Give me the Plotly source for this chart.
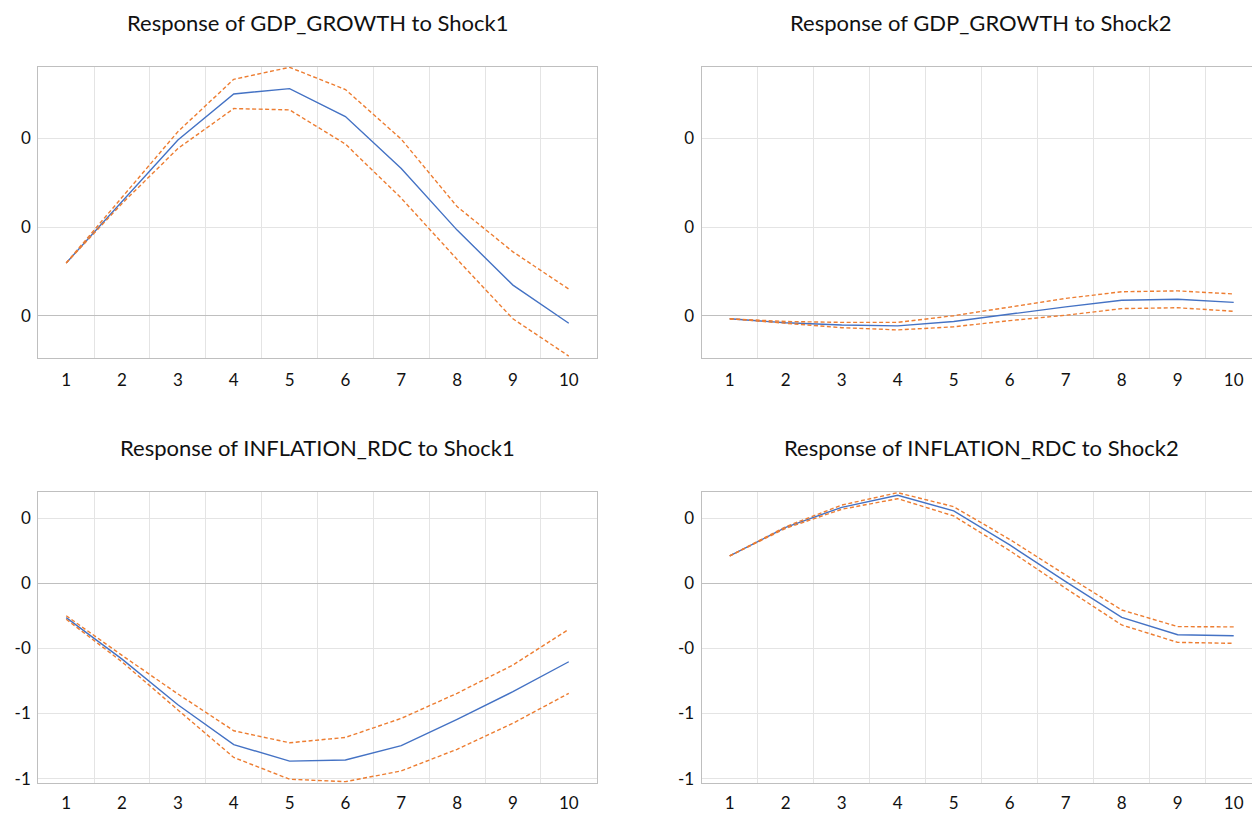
import plotly.graph_objects as go

# ---------------- data ----------------
periods = list(range(1, 11))
period_labels = [str(p) for p in periods]

gdp_shock1 = [0.119, 0.257, 0.396, 0.500, 0.512, 0.449, 0.332, 0.193, 0.069, -0.017]
gdp_shock1_upper = [0.119, 0.268, 0.415, 0.533, 0.560, 0.510, 0.398, 0.246, 0.144, 0.060]
gdp_shock1_lower = [0.119, 0.253, 0.377, 0.467, 0.464, 0.387, 0.265, 0.127, -0.007, -0.091]

gdp_shock2 = [-0.007, -0.016, -0.021, -0.023, -0.013, 0.004, 0.020, 0.035, 0.037, 0.030]
gdp_shock2_upper = [-0.007, -0.013, -0.015, -0.015, 0.000, 0.019, 0.039, 0.054, 0.056, 0.049]
gdp_shock2_lower = [-0.007, -0.017, -0.027, -0.032, -0.025, -0.011, 0.001, 0.016, 0.018, 0.010]

inf_shock1 = [-0.211, -0.466, -0.746, -0.991, -1.093, -1.086, -0.998, -0.836, -0.666, -0.482]
inf_shock1_upper = [-0.199, -0.443, -0.680, -0.906, -0.980, -0.947, -0.830, -0.676, -0.502, -0.283]
inf_shock1_lower = [-0.221, -0.483, -0.778, -1.070, -1.204, -1.219, -1.153, -1.020, -0.860, -0.676]

inf_shock2 = [0.168, 0.344, 0.467, 0.541, 0.445, 0.236, 0.010, -0.209, -0.316, -0.322]
inf_shock2_upper = [0.168, 0.348, 0.481, 0.557, 0.471, 0.270, 0.051, -0.164, -0.266, -0.268]
inf_shock2_lower = [0.168, 0.338, 0.455, 0.520, 0.414, 0.201, -0.031, -0.256, -0.363, -0.369]

titles = [
    "Response of GDP_GROWTH to Shock1",
    "Response of GDP_GROWTH to Shock2",
    "Response of INFLATION_RDC to Shock1",
    "Response of INFLATION_RDC to Shock2",
]

top_tickvals = [0, 0.2, 0.4]
top_ticktext = ["0", "0", "0"]
bottom_tickvals = [-1.2, -0.8, -0.4, 0, 0.4]
bottom_ticktext = ["-1", "-1", "-0", "0", "0"]

# ---------------- layout geometry ----------------
# The page body has an 8px margin, so the figure is drawn 8px in from the
# window corner; page coordinates are converted by subtracting OFF.
OFF = 8
W, H = 1260 - OFF, 814 - OFF
FONT = "Lato, 'Open Sans', sans-serif"
BLUE = "#4472C4"
ORANGE = "#ED7D31"
GRID = "#E4E4E4"
BORDER = "#BFBFBF"

panels = [
    dict(mid=gdp_shock1, up=gdp_shock1_upper, lo=gdp_shock1_lower,
         x=(38.3, 596.7), y=(66.7, 358.3), xr=[0.5, 10.5], yr=[-0.096, 0.5614],
         tv=top_tickvals, tt=top_ticktext, mirror=True, tx=317.5, xs=6),
    dict(mid=gdp_shock2, up=gdp_shock2_upper, lo=gdp_shock2_lower,
         x=(701.7, 1260.0), y=(66.7, 358.3), xr=[0.5, 0.5 + 558.3 / 56.0], yr=[-0.096, 0.5614],
         tv=top_tickvals, tt=top_ticktext, mirror=False, tx=981.0, xs=6),
    dict(mid=inf_shock1, up=inf_shock1_upper, lo=inf_shock1_lower,
         x=(38.3, 596.7), y=(491.7, 783.3), xr=[0.5, 10.5], yr=[-1.229, 0.563],
         tv=bottom_tickvals, tt=bottom_ticktext, mirror=True, tx=317.5, xs=4),
    dict(mid=inf_shock2, up=inf_shock2_upper, lo=inf_shock2_lower,
         x=(701.7, 1260.0), y=(491.7, 783.3), xr=[0.5, 0.5 + 558.3 / 56.0], yr=[-1.229, 0.563],
         tv=bottom_tickvals, tt=bottom_ticktext, mirror=False, tx=981.0, xs=4),
]

fig = go.Figure()
layout = dict(
    width=W, height=H,
    margin=dict(l=0, r=0, t=0, b=0),
    paper_bgcolor="white", plot_bgcolor="white",
    showlegend=False,
    font=dict(family=FONT, color="#111111"),
    annotations=[],
)

minor_grid = [p + 0.5 for p in periods[:-1]]

for i, p in enumerate(panels):
    n = "" if i == 0 else str(i + 1)
    xa, ya = "x" + n, "y" + n
    fig.add_trace(go.Scatter(x=periods, y=p["mid"], mode="lines", xaxis=xa, yaxis=ya,
                             line=dict(color=BLUE, width=1.4), hoverinfo="skip"))
    for key in ("up", "lo"):
        fig.add_trace(go.Scatter(x=periods, y=p[key], mode="lines", xaxis=xa, yaxis=ya,
                                 line=dict(color=ORANGE, width=1.4, dash="4px,2.5px"),
                                 hoverinfo="skip"))
    xd = [(p["x"][0] - OFF) / W, min(1.0, (p["x"][1] - OFF) / W)]
    yd = [1 - (p["y"][1] - OFF) / H, 1 - (p["y"][0] - OFF) / H]
    layout["xaxis" + n] = dict(
        domain=xd, anchor=ya, range=p["xr"],
        tickvals=periods, ticktext=period_labels,
        showgrid=False, zeroline=False,
        minor=dict(tickvals=minor_grid, showgrid=True, gridcolor=GRID, gridwidth=1),
        showline=True, linecolor=BORDER, linewidth=1.3, mirror=True,
        ticks="", ticklabelstandoff=p["xs"],
        tickfont=dict(family=FONT, size=17, color="#111111"),
        automargin=False, fixedrange=True,
    )
    layout["yaxis" + n] = dict(
        domain=yd, anchor=xa, range=p["yr"],
        tickvals=p["tv"], ticktext=p["tt"],
        showgrid=True, gridcolor=GRID, gridwidth=1,
        zeroline=True, zerolinecolor=BORDER, zerolinewidth=1.3,
        showline=True, linecolor=BORDER, linewidth=1.3, mirror=p["mirror"],
        ticks="", ticklabelstandoff=3,
        tickfont=dict(family=FONT, size=17, color="#111111"),
        automargin=False, fixedrange=True,
    )
    layout["annotations"].append(dict(
        text=titles[i], xref="paper", yref="paper",
        x=(p["tx"] - OFF) / W,
        y=1 - (p["y"][0] - 59.0 - OFF) / H,
        xanchor="center", yanchor="top", showarrow=False, borderpad=0,
        font=dict(family=FONT, size=22, color="#111111"),
    ))

fig.update_layout(**layout)
fig.write_html("out.html")
